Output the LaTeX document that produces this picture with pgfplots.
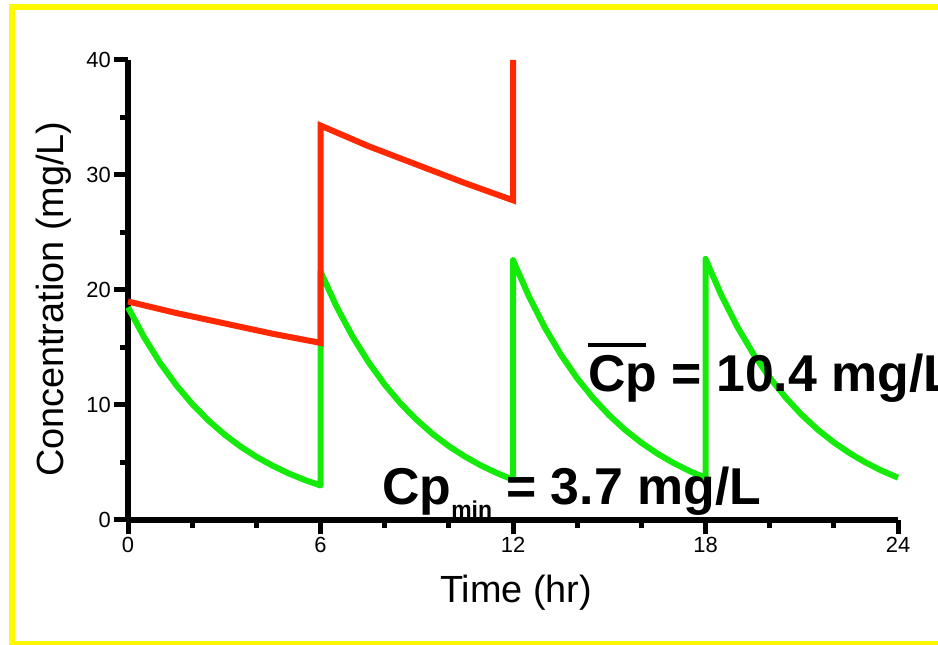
\documentclass[border=0pt]{standalone}
\usepackage{pgfplots}
\pgfplotsset{compat=1.18}
\usepackage{fontspec}
\setmainfont{Liberation Sans}
\definecolor{ptred}{RGB}{255,40,0}
\definecolor{ptgreen}{RGB}{20,235,10}
\definecolor{bordery}{RGB}{255,248,0}
\begin{document}
\begin{tikzpicture}[x=1bp,y=1bp]
\clip[use as bounding box] (0,0) rectangle (938,645);
\fill[white] (0,0) rectangle (938,645);
\draw[bordery, line width=6bp] (12,-10) -- (12,638) -- (960,638);
\draw[bordery, line width=6bp] (12,1) -- (960,1);
\begin{axis}[
  at={(128bp,125bp)}, anchor=south west,
  scale only axis, width=770bp, height=460bp,
  xmin=0, xmax=24, ymin=0, ymax=40,
  clip=false,
  axis lines=left,
  axis line style={-, line width=6bp, black},
  xtick={0,6,12,18,24},
  minor xtick={2,4,8,10,14,16,20,22},
  ytick={0,10,20,30,40},
  minor ytick={5,15,25,35},
  tick align=outside,
  major tick length=14bp,
  minor tick length=8bp,
  every tick/.style={black, line width=5bp},
  /pgf/number format/assume math mode=true,
  tick label style={font=\fontsize{22}{22}\selectfont, inner sep=3bp},
  xlabel={Time (hr)},
  ylabel={Concentration (mg/L)},
  xlabel style={font=\fontsize{38}{38}\selectfont, at={(axis description cs:0.504,-0.18)}, anchor=base},
  ylabel style={font=\fontsize{38}{38}\selectfont, at={(axis description cs:-0.0844,0.48)}, anchor=base, rotate=0},
]
\addplot[ptgreen, line width=6bp, line join=round] coordinates {
 (0,18.5) (0.5,15.90) (1,13.66) (1.5,11.74) (2,10.09) (2.5,8.67) (3,7.45)
 (3.5,6.40) (4,5.50) (4.5,4.73) (5,4.06) (5.5,3.49) (6,3.00)
 (6,21.6) (6.5,18.56) (7,15.95) (7.5,13.71) (8,11.78) (8.5,10.12) (9,8.70)
 (9.5,7.47) (10,6.42) (10.5,5.52) (11,4.74) (11.5,4.08) (12,3.50)
 (12,22.6) (12.5,19.42) (13,16.69) (13.5,14.34) (14,12.32) (14.5,10.59) (15,9.10)
 (15.5,7.82) (16,6.72) (16.5,5.77) (17,4.96) (17.5,4.26) (18,3.66)
 (18,22.7) (18.5,19.51) (19,16.76) (19.5,14.40) (20,12.38) (20.5,10.64) (21,9.14)
 (21.5,7.85) (22,6.75) (22.5,5.80) (23,4.98) (23.5,4.28) (24,3.68)
};
\addplot[ptred, line width=6bp] coordinates {
 (0,19.0) (1.5,18.0) (3,17.1) (4.5,16.2) (6,15.4)
 (6,34.3) (7.5,32.5) (9,30.9) (10.5,29.3) (12,27.8)
 (12,40.0)
};
\end{axis}
\node[anchor=base west, inner sep=0pt, font=\fontsize{52}{52}\selectfont\bfseries]
  at (382,140) {Cp\raisebox{-13bp}{\fontsize{23}{23}\selectfont min} = 3.7 mg/L};
\node[anchor=base west, inner sep=0pt, font=\fontsize{52}{52}\selectfont\bfseries]
  at (588,253) {\makebox[0pt][l]{\raisebox{45bp}{\rule{58bp}{4bp}}}Cp = 10.4 mg/L};
\end{tikzpicture}
\end{document}
